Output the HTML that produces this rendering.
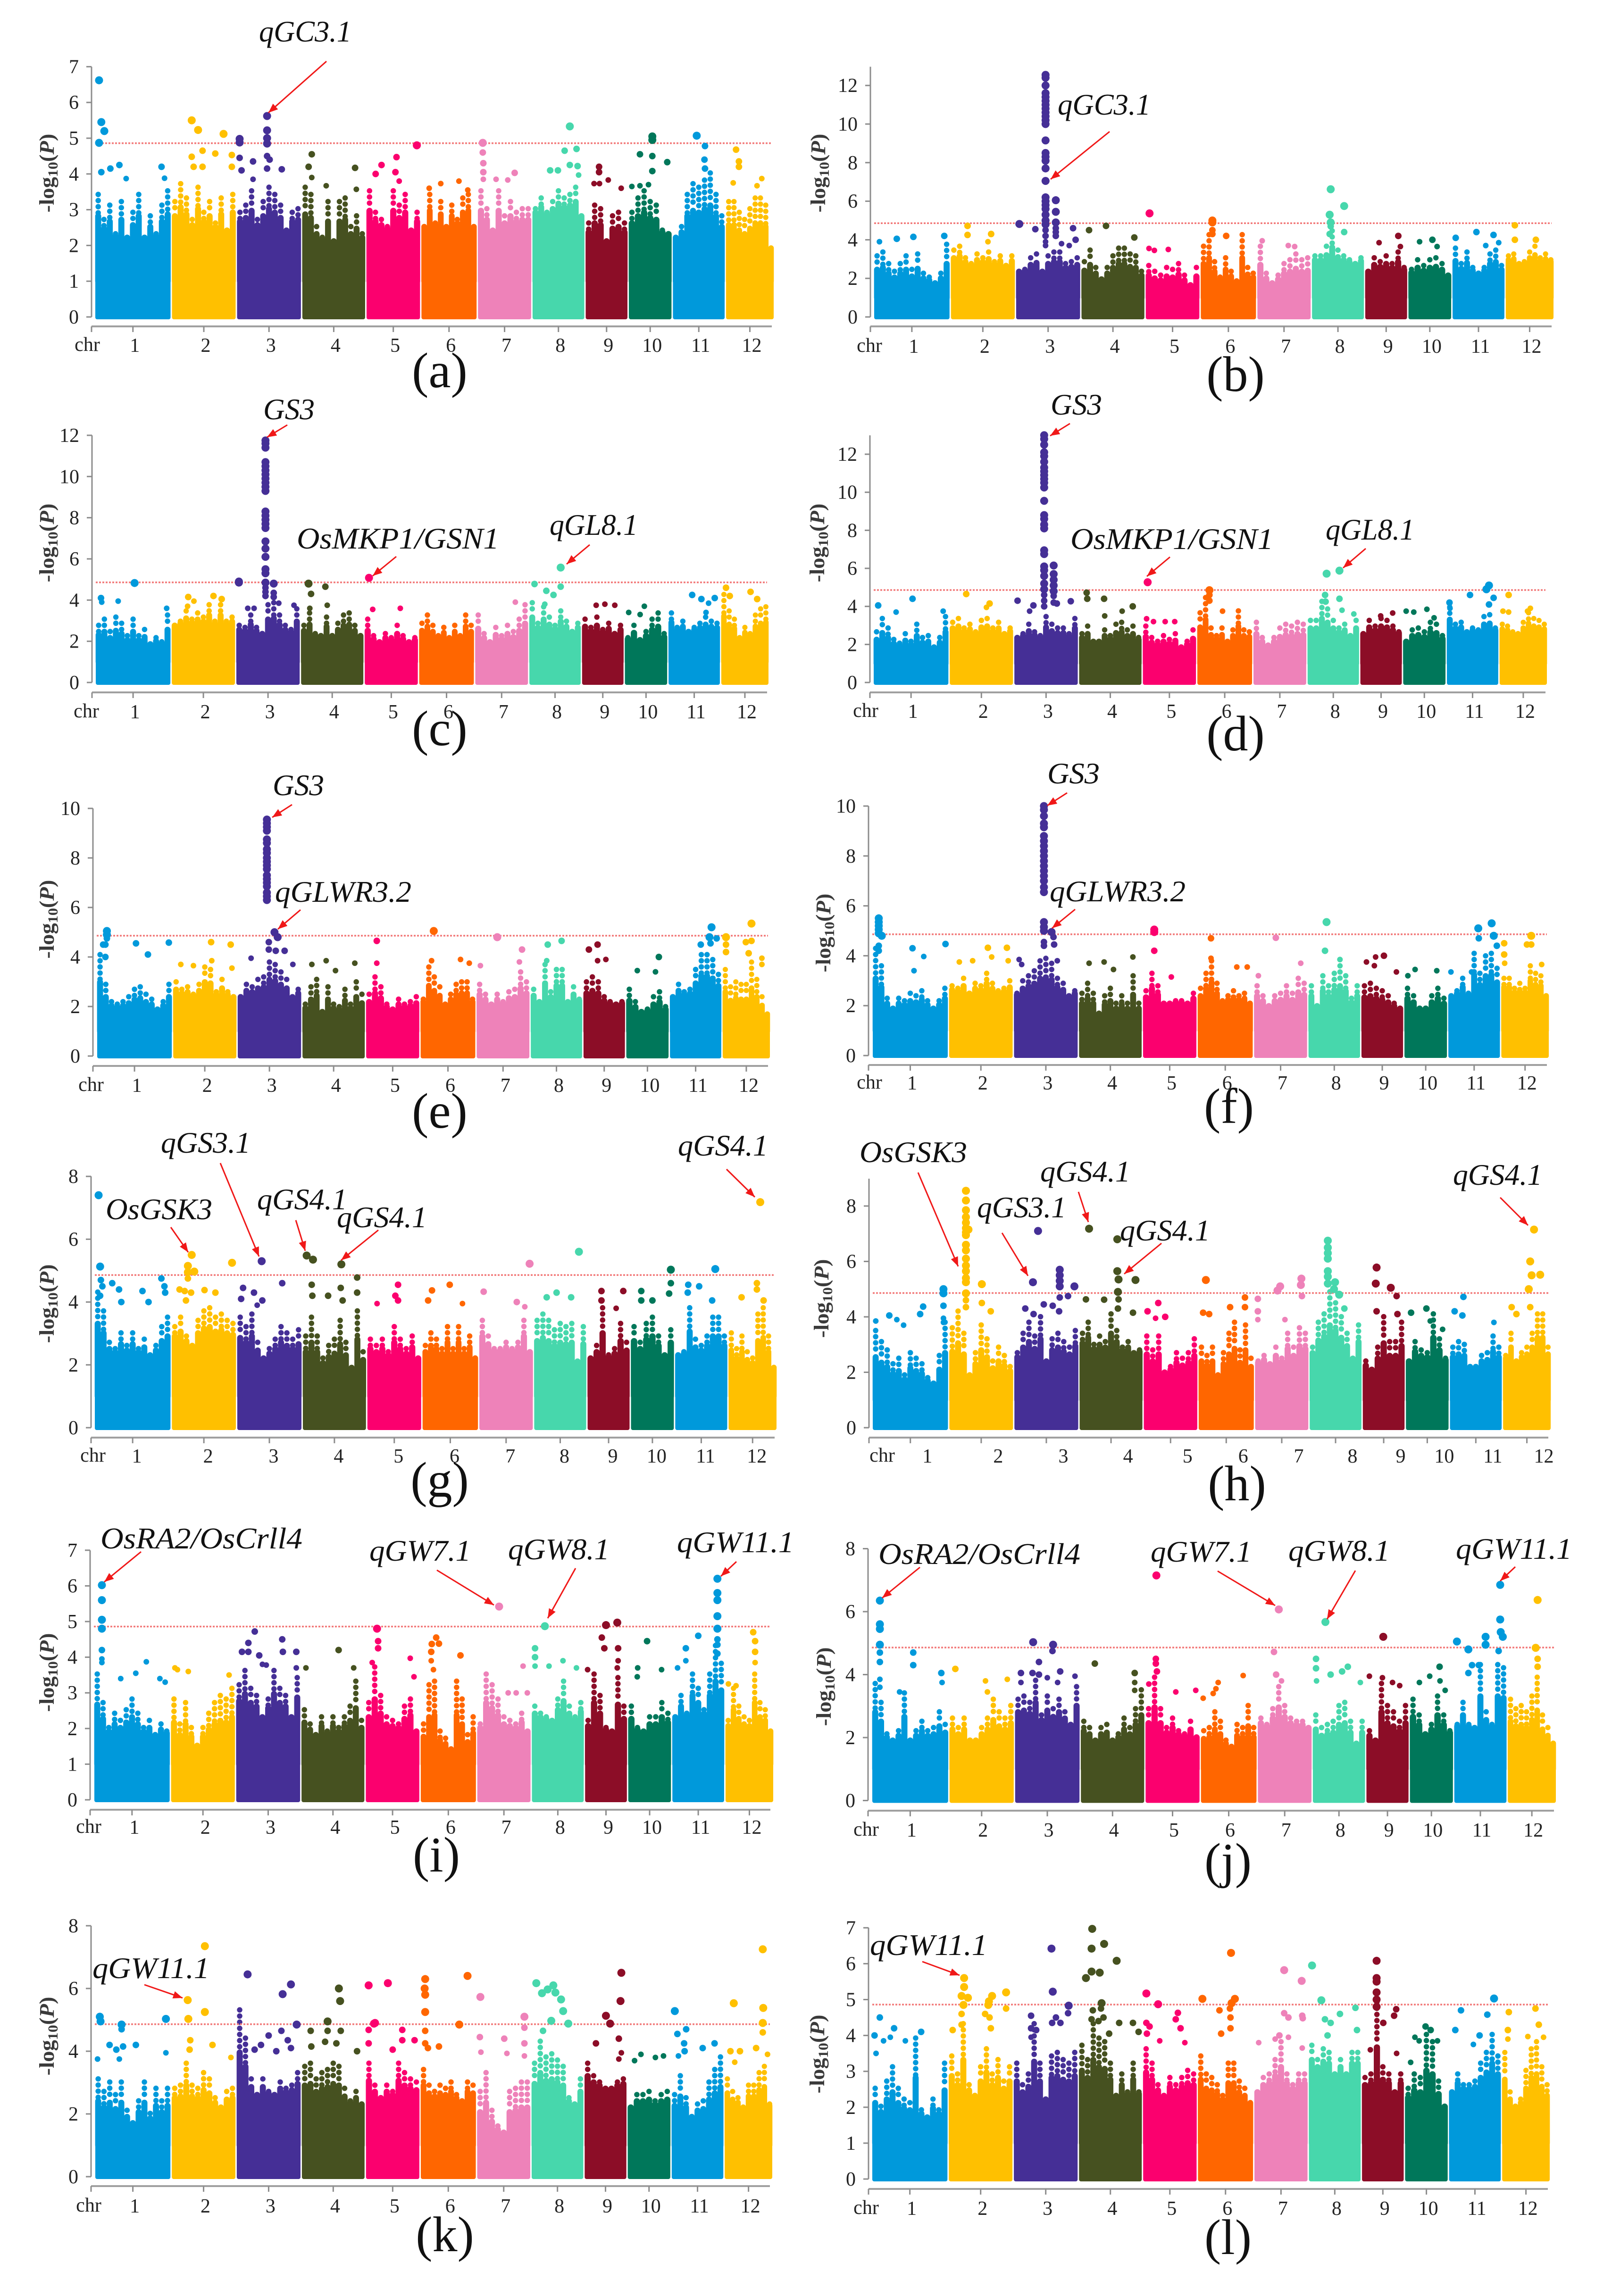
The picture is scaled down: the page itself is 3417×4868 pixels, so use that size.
<!DOCTYPE html>
<html lang="en">
<head>
<meta charset="utf-8">
<title>Manhattan plots of grain traits</title>
<style>
html,body{margin:0;padding:0;background:#fff;}
svg{display:block;}
.ann{font-family:"Liberation Serif",serif;font-style:italic;font-size:64px;fill:#111;}
.ytitle{font-family:"Liberation Serif",serif;font-weight:bold;font-size:44px;fill:#3a3a3a;text-anchor:middle;}
.letter{font-family:"Liberation Serif",serif;font-size:106px;fill:#111;text-anchor:middle;}
.tick{font-family:"Liberation Serif",serif;font-size:42px;fill:#222;}
.arrow{stroke:#f01818;stroke-width:3;fill:none;}
</style>
</head>
<body>
<svg xmlns="http://www.w3.org/2000/svg" width="3417" height="4868" viewBox="0 0 3417 4868">
<defs>
<marker id="ah" markerUnits="userSpaceOnUse" markerWidth="22" markerHeight="16" refX="20" refY="8" orient="auto"><path d="M0 0L20 8L0 16Z" fill="#f01818"/></marker>
</defs>
<rect width="3417" height="4868" fill="#fff"/>
<g id="charts"></g>

<g>
<text class="ytitle" transform="translate(114,367) rotate(-90)" textLength="167" lengthAdjust="spacingAndGlyphs">-log<tspan dy="8" font-size="30">10</tspan><tspan dy="-8">(</tspan><tspan font-style="italic">P</tspan>)</text>
<text class="ytitle" transform="translate(1749,367) rotate(-90)" textLength="167" lengthAdjust="spacingAndGlyphs">-log<tspan dy="8" font-size="30">10</tspan><tspan dy="-8">(</tspan><tspan font-style="italic">P</tspan>)</text>
<text class="ytitle" transform="translate(114,1151) rotate(-90)" textLength="167" lengthAdjust="spacingAndGlyphs">-log<tspan dy="8" font-size="30">10</tspan><tspan dy="-8">(</tspan><tspan font-style="italic">P</tspan>)</text>
<text class="ytitle" transform="translate(1747,1151) rotate(-90)" textLength="167" lengthAdjust="spacingAndGlyphs">-log<tspan dy="8" font-size="30">10</tspan><tspan dy="-8">(</tspan><tspan font-style="italic">P</tspan>)</text>
<text class="ytitle" transform="translate(114,1949) rotate(-90)" textLength="167" lengthAdjust="spacingAndGlyphs">-log<tspan dy="8" font-size="30">10</tspan><tspan dy="-8">(</tspan><tspan font-style="italic">P</tspan>)</text>
<text class="ytitle" transform="translate(1760,1978) rotate(-90)" textLength="167" lengthAdjust="spacingAndGlyphs">-log<tspan dy="8" font-size="30">10</tspan><tspan dy="-8">(</tspan><tspan font-style="italic">P</tspan>)</text>
<text class="ytitle" transform="translate(114,2764) rotate(-90)" textLength="167" lengthAdjust="spacingAndGlyphs">-log<tspan dy="8" font-size="30">10</tspan><tspan dy="-8">(</tspan><tspan font-style="italic">P</tspan>)</text>
<text class="ytitle" transform="translate(1756,2753) rotate(-90)" textLength="167" lengthAdjust="spacingAndGlyphs">-log<tspan dy="8" font-size="30">10</tspan><tspan dy="-8">(</tspan><tspan font-style="italic">P</tspan>)</text>
<text class="ytitle" transform="translate(114,3546) rotate(-90)" textLength="167" lengthAdjust="spacingAndGlyphs">-log<tspan dy="8" font-size="30">10</tspan><tspan dy="-8">(</tspan><tspan font-style="italic">P</tspan>)</text>
<text class="ytitle" transform="translate(1761,3576) rotate(-90)" textLength="167" lengthAdjust="spacingAndGlyphs">-log<tspan dy="8" font-size="30">10</tspan><tspan dy="-8">(</tspan><tspan font-style="italic">P</tspan>)</text>
<text class="ytitle" transform="translate(114,4317) rotate(-90)" textLength="167" lengthAdjust="spacingAndGlyphs">-log<tspan dy="8" font-size="30">10</tspan><tspan dy="-8">(</tspan><tspan font-style="italic">P</tspan>)</text>
<text class="ytitle" transform="translate(1747,4355) rotate(-90)" textLength="167" lengthAdjust="spacingAndGlyphs">-log<tspan dy="8" font-size="30">10</tspan><tspan dy="-8">(</tspan><tspan font-style="italic">P</tspan>)</text>
</g>

<g>
<text class="letter" x="932" y="821">(a)</text>
<text class="letter" x="2619" y="829">(b)</text>
<text class="letter" x="932" y="1580">(c)</text>
<text class="letter" x="2619" y="1591">(d)</text>
<text class="letter" x="932" y="2391">(e)</text>
<text class="letter" x="2605" y="2381">(f)</text>
<text class="letter" x="932" y="3173">(g)</text>
<text class="letter" x="2622" y="3181">(h)</text>
<text class="letter" x="925" y="3968">(i)</text>
<text class="letter" x="2603" y="3981">(j)</text>
<text class="letter" x="943" y="4773">(k)</text>
<text class="letter" x="2603" y="4779">(l)</text>
</g>

<g>
<text class="ann" x="549" y="88" textLength="196" lengthAdjust="spacingAndGlyphs">qGC3.1</text>
<line class="arrow" x1="692" y1="130" x2="569" y2="239" marker-end="url(#ah)"/>
<text class="ann" x="2242" y="243" textLength="197" lengthAdjust="spacingAndGlyphs">qGC3.1</text>
<line class="arrow" x1="2352" y1="279" x2="2227" y2="380" marker-end="url(#ah)"/>

<text class="ann" x="558" y="889" textLength="109" lengthAdjust="spacingAndGlyphs">GS3</text>
<line class="arrow" x1="609" y1="901" x2="566" y2="927" marker-end="url(#ah)"/>
<text class="ann" x="629" y="1163" textLength="429" lengthAdjust="spacingAndGlyphs">OsMKP1/GSN1</text>
<line class="arrow" x1="840" y1="1180" x2="790" y2="1221" marker-end="url(#ah)"/>
<text class="ann" x="1165" y="1134" textLength="187" lengthAdjust="spacingAndGlyphs">qGL8.1</text>
<line class="arrow" x1="1250" y1="1155" x2="1201" y2="1196" marker-end="url(#ah)"/>

<text class="ann" x="2227" y="879" textLength="109" lengthAdjust="spacingAndGlyphs">GS3</text>
<line class="arrow" x1="2268" y1="898" x2="2226" y2="924" marker-end="url(#ah)"/>
<text class="ann" x="2269" y="1164" textLength="430" lengthAdjust="spacingAndGlyphs">OsMKP1/GSN1</text>
<line class="arrow" x1="2480" y1="1181" x2="2431" y2="1222" marker-end="url(#ah)"/>
<text class="ann" x="2810" y="1144" textLength="188" lengthAdjust="spacingAndGlyphs">qGL8.1</text>
<line class="arrow" x1="2895" y1="1163" x2="2847" y2="1204" marker-end="url(#ah)"/>

<text class="ann" x="578" y="1686" textLength="109" lengthAdjust="spacingAndGlyphs">GS3</text>
<line class="arrow" x1="619" y1="1706" x2="577" y2="1733" marker-end="url(#ah)"/>
<text class="ann" x="583" y="1912" textLength="289" lengthAdjust="spacingAndGlyphs">qGLWR3.2</text>
<line class="arrow" x1="637" y1="1929" x2="589" y2="1970" marker-end="url(#ah)"/>

<text class="ann" x="2220" y="1661" textLength="111" lengthAdjust="spacingAndGlyphs">GS3</text>
<line class="arrow" x1="2262" y1="1681" x2="2220" y2="1708" marker-end="url(#ah)"/>
<text class="ann" x="2225" y="1911" textLength="288" lengthAdjust="spacingAndGlyphs">qGLWR3.2</text>
<line class="arrow" x1="2279" y1="1928" x2="2230" y2="1968" marker-end="url(#ah)"/>

<text class="ann" x="341" y="2444" textLength="190" lengthAdjust="spacingAndGlyphs">qGS3.1</text>
<line class="arrow" x1="467" y1="2466" x2="549" y2="2664" marker-end="url(#ah)"/>
<text class="ann" x="224" y="2585" textLength="226" lengthAdjust="spacingAndGlyphs">OsGSK3</text>
<line class="arrow" x1="362" y1="2602" x2="399" y2="2655" marker-end="url(#ah)"/>
<text class="ann" x="545" y="2564" textLength="191" lengthAdjust="spacingAndGlyphs">qGS4.1</text>
<line class="arrow" x1="627" y1="2587" x2="647" y2="2652" marker-end="url(#ah)"/>
<text class="ann" x="714" y="2602" textLength="191" lengthAdjust="spacingAndGlyphs">qGS4.1</text>
<line class="arrow" x1="802" y1="2608" x2="723" y2="2672" marker-end="url(#ah)"/>
<text class="ann" x="1437" y="2450" textLength="191" lengthAdjust="spacingAndGlyphs">qGS4.1</text>
<line class="arrow" x1="1540" y1="2479" x2="1600" y2="2538" marker-end="url(#ah)"/>

<text class="ann" x="1822" y="2464" textLength="228" lengthAdjust="spacingAndGlyphs">OsGSK3</text>
<line class="arrow" x1="1946" y1="2486" x2="2031" y2="2685" marker-end="url(#ah)"/>
<text class="ann" x="2071" y="2581" textLength="189" lengthAdjust="spacingAndGlyphs">qGS3.1</text>
<line class="arrow" x1="2124" y1="2614" x2="2179" y2="2705" marker-end="url(#ah)"/>
<text class="ann" x="2205" y="2505" textLength="191" lengthAdjust="spacingAndGlyphs">qGS4.1</text>
<line class="arrow" x1="2286" y1="2527" x2="2307" y2="2591" marker-end="url(#ah)"/>
<text class="ann" x="2374" y="2630" textLength="191" lengthAdjust="spacingAndGlyphs">qGS4.1</text>
<line class="arrow" x1="2462" y1="2636" x2="2383" y2="2701" marker-end="url(#ah)"/>
<text class="ann" x="3080" y="2512" textLength="189" lengthAdjust="spacingAndGlyphs">qGS4.1</text>
<line class="arrow" x1="3180" y1="2539" x2="3239" y2="2598" marker-end="url(#ah)"/>

<text class="ann" x="213" y="3283" textLength="428" lengthAdjust="spacingAndGlyphs">OsRA2/OsCrll4</text>
<line class="arrow" x1="299" y1="3290" x2="221" y2="3354" marker-end="url(#ah)"/>
<text class="ann" x="783" y="3309" textLength="215" lengthAdjust="spacingAndGlyphs">qGW7.1</text>
<line class="arrow" x1="926" y1="3329" x2="1047" y2="3403" marker-end="url(#ah)"/>
<text class="ann" x="1077" y="3306" textLength="215" lengthAdjust="spacingAndGlyphs">qGW8.1</text>
<line class="arrow" x1="1220" y1="3325" x2="1161" y2="3431" marker-end="url(#ah)"/>
<text class="ann" x="1435" y="3291" textLength="248" lengthAdjust="spacingAndGlyphs">qGW11.1</text>
<line class="arrow" x1="1561" y1="3311" x2="1528" y2="3342" marker-end="url(#ah)"/>

<text class="ann" x="1862" y="3316" textLength="428" lengthAdjust="spacingAndGlyphs">OsRA2/OsCrll4</text>
<line class="arrow" x1="1950" y1="3323" x2="1870" y2="3388" marker-end="url(#ah)"/>
<text class="ann" x="2439" y="3311" textLength="214" lengthAdjust="spacingAndGlyphs">qGW7.1</text>
<line class="arrow" x1="2581" y1="3331" x2="2703" y2="3404" marker-end="url(#ah)"/>
<text class="ann" x="2731" y="3309" textLength="215" lengthAdjust="spacingAndGlyphs">qGW8.1</text>
<line class="arrow" x1="2873" y1="3330" x2="2813" y2="3433" marker-end="url(#ah)"/>
<text class="ann" x="3086" y="3305" textLength="246" lengthAdjust="spacingAndGlyphs">qGW11.1</text>
<line class="arrow" x1="3212" y1="3322" x2="3180" y2="3352" marker-end="url(#ah)"/>

<text class="ann" x="196" y="4194" textLength="248" lengthAdjust="spacingAndGlyphs">qGW11.1</text>
<line class="arrow" x1="306" y1="4208" x2="387" y2="4236" marker-end="url(#ah)"/>
<text class="ann" x="1844" y="4145" textLength="249" lengthAdjust="spacingAndGlyphs">qGW11.1</text>
<line class="arrow" x1="1955" y1="4159" x2="2034" y2="4188" marker-end="url(#ah)"/>
</g>
</svg>

<script>
const chromosomes=['1','2','3','4','5','6','7','8','9','10','11','12'];
const chromosomeLengths=[43.0,36.5,36.6,36.0,30.8,31.7,30.6,29.8,24.2,24.7,29.8,27.5];
const chromosomeColors=['#0099db','#ffc000','#452f96','#465120','#fb006e','#ff6600','#ee82b9','#47d7ac','#8c0d27','#00775a','#0099db','#ffc000'];
const significanceThreshold=4.86;

const yTicksA=[0,1,2,3,4,5,6,7];
const yTicksB=[0,2,4,6,8,10,12];
const yTicksC=[0,2,4,6,8,10,12];
const yTicksD=[0,2,4,6,8,10,12];
const yTicksE=[0,2,4,6,8,10];
const yTicksF=[0,2,4,6,8,10];
const yTicksG=[0,2,4,6,8];
const yTicksH=[0,2,4,6,8];
const yTicksI=[0,1,2,3,4,5,6,7];
const yTicksJ=[0,2,4,6,8];
const yTicksK=[0,2,4,6,8];
const yTicksL=[0,1,2,3,4,5,6,7];

const skylineA=[[3.5,2.8,3.2,2.4,3.3,2.3,3.0,3.5,2.3,2.9,2.4,3.2,3.6],[3.3,3.8,3.4,2.8,3.7,3.0,3.3,2.7,3.4,2.5,3.5],[3.0,3.2,3.6,2.8,3.3,3.7,3.5,3.2,2.5,3.0,3.1],[3.7,3.5,2.6,2.3,3.3,2.2,3.3,3.4,2.6,2.9,2.4],[3.6,3.0,2.8,2.6,3.6,3.2,3.5,2.5,3.0],[2.6,3.5,2.7,3.3,2.6,3.2,2.8,3.4,3.5,2.6],[3.6,3.1,2.5,3.6,2.9,3.3,3.0,3.1,3.1],[3.1,3.4,3.0,3.3,3.6,3.4,3.5,3.7,2.9],[2.7,3.2,3.1,2.2,2.9,3.0,2.7],[3.0,3.4,3.6,3.3,3.2,2.5,2.4],[2.3,2.6,3.5,3.8,3.7,3.9,4.1,3.5,2.9],[3.3,3.3,3.0,2.8,3.1,3.4,3.4,3.2,2.0]];
const peaksA=[[1,.05,6.62,4.87],[1,.08,5.45,4.05],[1,.12,5.2],[1,.2,4.15],[1,.32,4.25],[1,.41,3.87],[1,.88,4.2],[1,.92,3.88],[2,.31,5.5,4.48],[2,.41,5.23],[2,.81,5.12],[2,.48,4.65,4.2],[2,.68,4.57],[2,.94,4.53,4.2],[2,.34,4.2],[3,.04,4.98,4.88,4.45],[3,.47,5.62,5.22,5.0,4.85,4.5,4.15],[3,.25,4.35,3.85],[3,.51,4.4],[3,.7,4.13],[3,.07,4.1],[4,.15,4.55,3.9],[4,.1,4.2],[4,.84,4.17],[4,.38,3.67],[4,.86,3.57],[5,.94,4.8],[5,.56,4.47],[5,.28,4.25],[5,.54,4.05],[5,.17,4.0],[5,.61,3.8],[6,.35,3.73],[6,.68,3.8],[6,.14,3.6],[6,.84,3.55],[7,.09,4.87,4.6],[7,.1,4.3,4.05,3.85],[7,.69,4.03],[7,.34,3.85],[7,.56,3.83],[8,.72,5.33,4.25],[8,.62,4.65],[8,.85,4.7],[8,.87,4.22],[8,.34,4.1],[8,.49,4.1],[8,.89,3.97],[9,.32,4.2,4.05],[9,.54,3.83],[9,.2,3.73],[9,.33,3.73],[9,.85,3.6],[10,.55,5.05,4.95,4.5,4.08],[10,.26,4.55,3.67],[10,.9,4.33],[10,.07,3.65],[10,.46,3.7],[11,.46,5.07],[11,.62,4.78,4.15],[11,.61,4.4],[12,.21,4.68],[12,.27,4.35,4.2],[12,.15,3.75],[12,.75,3.87],[12,.65,3.67]];

const skylineB=[[3.3,3.5,2.9,2.5,2.9,3.3,2.6,3.4,2.4,2.2,1.9,2.4,3.9],[3.6,3.8,3.2,2.9,3.4,3.2,3.5,3.0,3.3,2.8,3.3],[2.5,2.6,3.2,3.4,2.5,3.3,3.5,3.5,2.9,3.0,3.2],[3.0,3.6,2.7,2.1,2.7,3.3,3.7,3.7,3.4,3.3,2.5],[2.8,2.5,2.3,2.7,2.6,2.9,2.3,1.8,2.7],[3.8,4.4,3.0,2.2,3.2,2.5,2.0,4.4,2.7,2.4],[3.8,2.4,1.9,2.3,2.9,3.1,3.4,3.1,3.2],[3.3,3.3,3.8,4.6,3.6,3.3,3.1,2.9,3.2],[2.5,3.2,3.0,3.3,2.9,3.5,2.7],[2.6,3.1,2.8,3.1,3.2,2.9,2.3],[3.7,2.9,3.5,2.7,2.4,2.7,3.4,3.6,2.8],[3.3,3.4,2.9,3.0,3.5,3.8,3.2,3.4,3.1]];
const peaksB=[[1,.07,3.9],[1,.3,4.05],[1,.52,4.15],[1,.93,4.2],[2,.26,4.72,4.25],[2,.63,4.3],[2,.58,3.9],[3,.46,12.55,12.4,12.0,11.6,11.4,11.2,11.0,10.8,10.6,10.4,10.2,10.0,9.15,8.5,8.3,8.1,7.7,7.05,6.2,6.0,5.8,5.6,5.3,5.0,4.8,4.5,4.2,3.9,3.7],[3,.62,6.05,5.45,4.9,4.6,4.4,4.2],[3,.05,4.82],[3,.3,4.55],[3,.89,4.6],[3,.93,4.0],[3,.71,3.8],[3,.83,3.7],[4,.12,4.5],[4,.39,4.72],[4,.84,4.12],[5,.07,5.37],[5,.06,3.55],[5,.16,3.45],[5,.42,3.5],[6,.21,5.0,4.9,4.5,4.3],[6,.46,4.2],[7,.09,3.95],[7,.58,3.7],[7,.7,3.65],[8,.36,6.62,4.9,4.7],[8,.62,5.75,4.4],[8,.34,5.3,4.3],[9,.79,4.2],[9,.33,3.85],[9,.84,3.65],[10,.26,3.9],[10,.56,4.0],[10,.67,3.65],[11,.46,4.4],[11,.06,4.1],[11,.79,4.25],[11,.89,3.85],[11,.64,3.7],[12,.19,4.75,4.0],[12,.63,4.0]];

const skylineC=[[2.9,3.2,2.6,3.3,3.0,2.4,3.2,2.4,2.7,2.0,2.3,2.1,3.4],[2.9,3.1,3.6,3.2,3.5,3.3,3.9,3.1,3.9,3.1,3.3],[2.9,2.8,3.4,2.8,2.5,3.9,4.0,3.4,2.9,2.7,3.7],[2.9,3.5,2.5,2.4,3.3,2.4,3.0,3.4,3.5,2.9,2.4],[3.2,2.4,2.1,2.5,2.3,2.9,2.4,2.1,2.3],[3.0,3.4,2.9,2.4,2.8,2.3,2.9,2.4,3.4,2.9],[3.4,2.5,2.1,2.8,2.4,2.9,2.6,3.2,3.9],[4.0,3.0,3.8,3.3,2.9,3.6,3.1,2.6,3.0],[3.2,2.8,3.3,2.7,3.0,2.5,2.9],[2.3,2.9,2.2,2.6,3.2,3.5,2.5],[3.5,2.8,3.1,2.6,2.8,3.0,3.3,3.1,3.0],[4.4,3.6,3.2,2.3,2.8,2.5,3.4,3.7,3.8]];
const peaksC=[[1,.52,4.83],[1,.07,4.1],[1,.08,3.9],[1,.3,3.95],[1,.95,3.6],[2,.26,4.15],[2,.35,3.95],[2,.66,4.2],[2,.79,4.05],[2,.25,3.7],[3,.46,11.75,11.6,11.4,10.7,10.5,10.3,10.1,9.9,9.7,9.5,9.3,8.3,8.1,7.9,7.7,7.5,6.85,6.5,6.1,5.5,5.3,4.85,4.6,4.4,4.2],[3,.59,4.8,4.35,4.15],[3,.04,4.9,4.85],[3,.67,3.85],[3,.91,3.75],[3,.18,3.6],[3,.28,3.6],[4,.12,4.8],[4,.16,4.3],[4,.39,4.65],[4,.42,3.75],[4,.14,3.6],[5,.08,5.08],[5,.15,3.55],[5,.67,3.6],[7,.76,3.9],[8,.1,4.78],[8,.61,5.58,4.65],[8,.33,4.45],[8,.47,4.25],[8,.3,3.8],[9,.34,3.75],[9,.55,3.8],[9,.79,3.75],[10,.46,3.7],[10,.09,3.4],[10,.36,3.3],[11,.46,4.25],[11,.64,4.05],[11,.9,4.1],[11,.78,3.85],[11,.73,3.4],[12,.1,4.6],[12,.18,4.2],[12,.62,4.4],[12,.76,4.05]];

const skylineD=[[2.8,3.5,3.0,2.4,2.2,2.7,2.3,3.2,2.5,2.6,2.0,2.5,3.6],[3.3,3.5,3.0,3.2,2.8,3.4,3.5,3.0,3.3,2.7,3.0],[2.5,2.7,3.2,2.8,2.6,3.6,3.2,3.0,3.0,2.7,3.5],[2.7,3.1,2.3,2.3,2.9,2.6,3.2,3.3,2.9,3.1,2.5],[3.1,2.5,2.3,2.6,2.4,2.7,2.0,2.3,2.9],[3.8,4.6,3.0,2.6,3.0,2.3,2.9,3.9,2.9,2.8],[3.3,2.5,2.1,2.5,3.0,3.2,3.1,3.3,3.2],[3.4,3.4,4.4,4.0,3.4,3.0,3.2,2.6,3.4],[2.7,3.4,3.1,3.5,3.4,3.1,2.8],[2.3,2.9,3.0,2.8,3.3,3.2,2.6],[4.1,3.2,3.3,2.8,3.0,2.9,3.6,3.7,3.0],[3.2,3.1,2.8,2.7,3.3,3.8,3.5,3.4,3.2]];
const peaksD=[[1,.06,4.05],[1,.3,3.7],[1,.52,4.4],[1,.93,3.75],[2,.26,4.65],[2,.63,4.15],[2,.58,3.95],[3,.47,13.0,12.8,12.5,12.1,11.9,11.6,11.3,11.1,10.9,10.7,10.5,10.25,9.55,8.8,8.6,8.3,8.1,6.95,6.75,6.1,5.9,5.6,5.2,4.9,4.6,4.3,4.0],[3,.62,6.15,5.7,5.4,5.1,4.8,4.55,4.2],[3,.05,4.3],[3,.3,4.05],[3,.89,4.27],[3,.24,3.75],[3,.67,4.15],[4,.12,4.72],[4,.13,4.4],[4,.4,4.4],[4,.86,4.0],[4,.41,3.5],[4,.69,3.75],[5,.09,5.27],[5,.07,3.35],[5,.2,3.2],[5,.42,3.2],[5,.6,3.2],[6,.22,4.85,4.6,4.3],[6,.46,3.75],[8,.37,5.72],[8,.62,5.88,4.4],[8,.34,4.6],[8,.35,4.25],[8,.67,3.8],[8,.9,3.6],[9,.49,3.5],[9,.78,3.65],[10,.07,3.75],[10,.25,3.7],[10,.56,3.85],[10,.73,3.4],[11,.82,5.1,4.1],[11,.77,4.9],[11,.45,4.6],[11,.91,4.45],[11,.05,4.2],[11,.06,3.9],[12,.19,4.6,3.7],[12,.07,3.75],[12,.65,3.9],[12,.59,3.75]];

const skylineE=[[4.2,3.0,2.3,2.2,2.3,2.5,2.8,2.9,2.6,2.4,2.0,2.3,3.0],[3.1,2.8,2.9,2.6,3.0,3.7,3.6,2.7,3.2,2.7,2.5],[2.5,3.0,2.9,3.2,3.3,3.9,3.8,3.5,3.2,2.5,2.8],[2.2,2.9,3.2,1.9,2.9,2.2,2.1,2.8,2.2,3.1,2.6],[2.6,3.3,2.9,2.2,2.0,2.4,2.2,2.3,2.5],[2.4,3.7,3.3,2.9,2.2,2.6,3.0,3.1,3.1,2.4],[3.0,2.6,2.2,2.6,2.3,2.7,2.8,3.5,3.1],[2.8,2.3,3.8,2.7,3.6,3.6,2.3,2.9,2.4],[3.1,3.3,3.1,2.5,2.3,2.2,2.3],[2.8,2.3,1.9,2.0,2.5,2.7,2.1],[2.5,3.0,2.7,2.8,3.6,4.2,4.2,4.0,3.4],[3.6,2.9,3.1,3.0,3.0,3.9,3.2,2.5,1.8]];
const peaksE=[[1,.13,5.05,4.9,4.75],[1,.08,4.5],[1,.11,4.5,4.0],[1,.52,4.55],[1,.68,4.1],[1,.96,4.58],[2,.6,4.6],[2,.91,4.5],[2,.93,3.55],[2,.12,3.7],[2,.32,3.65],[2,.61,3.85],[3,.46,9.55,9.4,9.25,9.1,8.75,8.6,8.35,8.2,8.0,7.85,7.7,7.55,7.3,7.15,7.0,6.85,6.6,6.45,6.3],[3,.58,5.0],[3,.63,4.8],[3,.49,4.6,4.3],[3,.74,4.25],[3,.6,4.25],[3,.21,3.95],[3,.87,3.7],[4,.38,3.85],[4,.15,3.7],[4,.84,3.75],[4,.53,3.45],[5,.2,4.65,3.75],[6,.24,5.05],[6,.2,3.85],[6,.73,3.9],[6,.89,3.75],[7,.39,4.8],[7,.86,4.3],[7,.07,3.65],[7,.81,3.8],[8,.6,4.65],[8,.33,4.5],[8,.31,3.85],[9,.34,4.5,3.85],[9,.13,4.3],[9,.54,3.9],[10,.77,4.0],[10,.26,3.45],[10,.69,3.4],[11,.81,5.2],[11,.77,4.8],[11,.91,4.75],[11,.6,4.5],[11,.79,4.55],[12,.61,5.35,4.65],[12,.07,4.8,4.5,4.2],[12,.49,4.6],[12,.55,4.15],[12,.83,3.95,3.7]];

const skylineF=[[4.4,3.7,2.4,2.0,2.4,2.3,2.6,2.5,2.7,2.3,2.0,2.3,2.8],[2.9,2.8,3.2,2.6,3.0,2.9,3.4,3.0,2.7,2.8,3.1],[2.6,3.1,3.3,3.5,3.9,4.0,3.8,3.2,3.0,2.5,2.7],[2.6,3.0,2.6,1.8,2.5,2.8,2.2,2.5,2.2,3.3,2.2],[2.7,3.4,2.9,2.2,2.2,2.3,2.3,2.2,2.6],[2.8,3.4,3.9,3.0,2.3,2.5,2.7,2.5,2.6,2.2],[2.9,2.5,2.1,2.5,2.6,2.9,2.6,3.2,3.0],[2.9,2.1,3.3,2.9,3.4,3.7,3.3,2.4,2.9],[2.9,3.0,2.8,2.7,2.5,2.2,2.0],[2.8,2.5,2.0,2.0,2.5,2.8,2.4],[2.5,2.7,3.2,2.6,4.2,3.4,4.1,4.2,3.6],[3.2,3.2,2.8,3.0,2.8,3.7,3.4,3.3,2.5]];
const peaksF=[[1,.08,5.5,5.35,5.2,5.05,4.9,4.4,4.2],[1,.12,4.8],[1,.53,4.3],[1,.55,3.4],[1,.68,3.97],[1,.97,4.47],[2,.61,4.32],[2,.91,4.32],[2,.67,3.95],[2,.37,3.8],[2,.16,3.75],[2,.93,3.8],[3,.47,10.0,9.85,9.6,9.3,9.15,8.8,8.6,8.4,8.2,8.0,7.8,7.6,7.4,7.2,7.0,6.75,6.55,5.35,5.15,5.0,4.55,4.4],[3,.59,4.95],[3,.62,4.75],[3,.63,4.45],[3,.08,3.85],[3,.12,3.65],[3,.68,3.8],[4,.86,3.95],[4,.16,3.7],[4,.4,3.75],[4,.55,3.45],[5,.21,5.05,4.95,4.2],[5,.53,3.15],[6,.24,4.7,3.9],[6,.71,3.55],[6,.9,3.55],[7,.41,4.72],[7,.88,3.7],[7,.08,3.2],[8,.35,5.35],[8,.32,4.2],[8,.61,3.85],[9,.54,4.0],[9,.34,3.95],[9,.12,3.75],[9,.84,3.35],[9,.31,3.6],[10,.25,3.45],[10,.76,3.4],[10,.08,3.2],[11,.84,5.3],[11,.58,5.1],[11,.88,4.8],[11,.59,4.7],[11,.94,4.4],[11,.05,3.35],[11,.45,3.35],[12,.63,4.8,4.45],[12,.06,4.5,4.05],[12,.54,4.45],[12,.07,3.7],[12,.85,3.65]];

const skylineG=[[4.4,3.8,2.8,2.6,3.1,2.7,3.1,2.6,2.9,2.4,2.7,3.3,3.6],[3.3,3.6,3.0,2.7,3.5,3.8,3.9,3.6,3.7,3.5,3.4],[3.6,3.3,3.7,2.8,2.3,2.6,2.9,3.3,3.1,2.9,3.2],[3.0,3.6,3.0,2.3,2.7,2.9,3.5,2.8,2.0,3.8,2.5],[2.9,2.7,2.9,2.5,3.3,2.9,2.6,3.0,2.3],[2.7,3.1,2.9,2.6,3.3,2.6,3.3,2.6,3.0,2.3],[3.5,3.0,2.6,2.6,2.8,2.6,2.8,3.5,2.5],[3.5,3.7,3.5,3.2,3.4,3.3,3.4,2.2,3.3],[2.3,2.7,3.9,2.4,2.6,3.4,2.8],[3.3,2.8,3.4,3.6,3.0,2.4,3.2],[2.4,2.5,3.9,2.9,2.7,3.0,3.6,3.6,3.0],[3.1,2.6,3.0,2.5,2.3,3.7,3.9,3.0,2.0]];
const peaksG=[[1,.05,7.4],[1,.07,5.13,4.2],[1,.08,4.7],[1,.1,4.5],[1,.23,4.6],[1,.32,4.4],[1,.63,4.35],[1,.88,4.75],[1,.92,4.5],[1,.93,4.3],[1,.71,4.0],[1,.35,4.0],[2,.31,5.5],[2,.94,5.25],[2,.25,5.15,4.95,4.75],[2,.35,4.97],[2,.12,4.4],[2,.2,4.35],[2,.3,4.3],[2,.51,4.38],[2,.68,4.3],[2,.22,4.05],[3,.38,5.3],[3,.7,4.6],[3,.09,4.45],[3,.26,4.3],[3,.39,4.05],[3,.06,4.1],[3,.31,3.9],[4,.06,5.48],[4,.16,5.35],[4,.61,5.2],[4,.86,4.78,4.3],[4,.14,4.55],[4,.6,4.45],[4,.4,4.2],[4,.15,4.2],[4,.63,4.05],[5,.57,4.55,4.05],[5,.52,4.2],[5,.18,3.95],[6,.49,4.55],[6,.17,4.37],[6,.1,4.05],[6,.72,3.95],[7,.94,5.22],[7,.08,4.33],[7,.7,4.0],[7,.85,3.85],[8,.86,5.6],[8,.43,4.3],[8,.24,4.15],[8,.71,4.15],[9,.33,4.35,4.05],[9,.85,4.35],[9,.68,3.8],[10,.93,5.03,4.6],[10,.24,4.35,4.05],[10,.89,4.27],[10,.5,4.05],[11,.77,5.05],[11,.25,4.55],[11,.46,4.5],[11,.24,4.3],[11,.71,4.05],[12,.66,7.18],[12,.59,4.6,4.4],[12,.27,4.15],[12,.73,4.05]];

const skylineH=[[3.6,3.2,2.9,2.4,2.6,2.0,2.8,2.6,2.4,1.9,1.7,2.7,3.9],[3.7,4.3,3.5,2.0,2.8,3.8,3.3,2.5,3.0,2.7,2.3],[2.8,3.5,3.9,3.4,4.1,2.5,3.3,3.5,3.2,3.0,3.6],[3.5,3.9,3.1,3.4,3.2,4.2,3.6,3.0,3.2,2.8,2.9],[3.4,2.9,3.4,2.1,2.3,2.8,2.6,2.8,3.3],[3.0,2.7,3.0,2.0,2.8,3.5,3.9,2.9,3.8,2.6],[2.5,2.7,2.4,3.0,2.6,3.5,3.0,3.7,3.5],[3.0,3.9,4.2,5.0,4.6,4.1,3.5,2.6,3.8],[2.5,2.2,3.0,4.1,3.2,3.2,3.9],[2.5,3.2,2.9,2.8,4.2,3.3,2.6],[3.0,3.2,3.1,2.3,2.3,2.7,2.8,3.4,3.0],[2.7,3.5,2.5,2.8,3.0,3.5,4.2,4.2,3.0]];
const peaksH=[[1,.94,5.0,4.85,4.4,3.95,3.8],[1,.67,4.37],[1,.63,4.1],[1,.04,3.85],[1,.22,4.05],[1,.32,3.9],[1,.41,3.7],[2,.26,8.55,8.2,7.85,7.6,7.4,7.2,7.05,6.95,6.6,6.4,6.1,5.85,5.65,5.4,5.25,4.85,4.6,4.35],[2,.3,7.15],[2,.51,5.18,4.5],[2,.65,4.2],[3,.37,7.1],[3,.29,5.25],[3,.71,5.7,5.5,5.3,5.1,4.7],[3,.94,5.1],[3,.84,4.75],[3,.46,4.45],[3,.6,4.4],[3,.17,4.3],[3,.7,4.2],[3,.3,4.1],[4,.15,7.18],[4,.6,6.8,5.65],[4,.62,5.35,4.63],[4,.89,5.33],[4,.61,4.9,4.3],[4,.1,4.63],[4,.39,4.62],[4,.85,4.15],[5,.27,4.5],[5,.07,4.2],[5,.4,4.0],[5,.22,3.95],[6,.13,5.33],[6,.84,4.7,4.35],[6,.08,4.15],[6,.19,4.1],[6,.57,4.35],[7,.87,5.38],[7,.86,5.15],[7,.47,5.1],[7,.42,4.95],[7,.05,4.65,4.2,3.9],[7,.88,4.75],[7,.56,3.9],[8,.35,6.75,6.5,6.3,6.1,5.65,5.45,5.2],[8,.49,5.25],[8,.57,4.8],[8,.47,5.0],[8,.67,4.3],[9,.33,5.78,4.2],[9,.31,5.2],[9,.67,5.05],[9,.81,4.75],[9,.83,4.1],[10,.12,4.15],[10,.48,4.3],[10,.57,3.85],[10,.86,3.55],[11,.26,4.72],[11,.09,4.2],[11,.24,4.05],[11,.85,3.8],[12,.65,7.15],[12,.57,6.0,4.35],[12,.6,5.5],[12,.78,5.52],[12,.54,5.0],[12,.18,4.35],[12,.28,4.1]];

const skylineI=[[3.6,2.8,2.1,2.5,2.3,2.6,2.9,2.5,2.1,2.3,1.9,2.2,2.0],[2.9,2.2,2.8,2.1,1.6,2.1,2.5,2.8,3.0,2.9,3.2],[3.3,3.7,3.2,3.0,2.4,2.9,3.7,3.2,3.0,2.4,3.5],[2.6,2.2,1.9,2.4,2.0,2.4,2.1,2.4,2.7,3.4,2.3],[2.8,3.8,3.0,2.4,2.3,2.2,2.7,2.9,2.0],[2.2,3.3,3.4,2.0,1.8,1.5,3.4,2.9,1.9,2.4],[2.2,3.6,3.3,2.9,2.4,2.3,2.2,2.5,2.0],[2.7,2.5,2.4,2.3,2.9,3.4,2.7,2.4,2.8],[2.3,3.6,3.0,2.1,2.0,3.5,2.7],[2.7,2.1,2.0,2.4,2.4,2.8,2.5],[2.4,3.0,2.5,3.6,3.2,2.6,3.6,4.4,3.9],[2.3,3.2,2.7,2.4,2.3,3.6,2.8,2.6,2.0]];
const peaksI=[[1,.1,6.02,5.6,5.05,4.8,4.2,3.95,3.85],[1,.69,3.87],[1,.35,3.4],[1,.55,3.55],[1,.87,3.4],[1,.94,3.3],[2,.06,3.7],[2,.1,3.65],[2,.27,3.6],[2,.91,3.5],[3,.29,4.72],[3,.72,4.5],[3,.19,4.4,4.15],[3,.09,4.15],[3,.36,4.05],[3,.73,4.15],[3,.94,4.15,3.7],[3,.41,3.8],[3,.47,3.78],[4,.59,4.2],[4,.07,3.7],[4,.83,3.7],[5,.21,4.8],[5,.23,4.45,4.25],[5,.83,3.97],[5,.12,3.85],[5,.9,3.45],[6,.28,4.55],[6,.2,4.37],[6,.33,4.38],[6,.19,4.15,3.9],[6,.72,4.05],[6,.23,3.65],[7,.41,5.42],[7,.86,3.75],[7,.58,3.0],[7,.73,3.0],[7,.94,3.0],[8,.25,4.87],[8,.06,4.25,4.0,3.75],[8,.6,3.9],[8,.33,3.75],[8,.86,3.7],[9,.5,4.9],[9,.77,4.97,3.7],[9,.4,4.55],[9,.46,4.25],[9,.79,4.25,3.9],[9,.06,3.65],[10,.44,4.45],[10,.22,3.7],[10,.78,3.65],[10,.21,3.45],[11,.87,6.2,5.8,5.6,5.15,4.8,4.5,4.35,4.1],[11,.5,4.6],[11,.26,4.25,3.9],[11,.1,3.7],[12,.58,4.7],[12,.62,4.45,4.15,3.85],[12,.06,3.25],[12,.22,3.2]];

const skylineJ=[[3.8,3.2,2.2,2.0,2.3,3.5,2.0,2.3,2.6,2.3,2.4,2.9,2.5],[2.7,2.4,2.7,2.0,2.0,2.4,2.7,3.3,2.9,2.7,3.1],[3.3,3.4,3.2,3.9,2.8,3.4,3.0,3.3,2.9,2.5,3.7],[2.6,2.4,2.0,2.4,2.5,2.0,2.2,2.7,2.4,3.0,3.6],[3.0,4.0,3.0,2.4,2.7,2.3,2.2,2.6,2.1],[2.3,2.4,2.9,2.6,2.0,1.8,2.5,2.4,3.1,2.4],[2.7,2.5,3.0,3.7,3.1,2.7,2.6,2.6,2.4],[2.8,2.4,2.5,2.6,3.1,3.2,2.6,1.9,2.6],[2.3,2.0,3.8,3.1,2.9,2.6,3.1],[3.3,2.8,2.2,2.5,3.4,2.8,2.3],[2.5,3.2,2.5,2.4,4.4,2.9,2.5,4.4,4.3],[3.3,3.0,3.1,2.9,3.4,4.0,2.8,2.4,1.9]];
const peaksJ=[[1,.1,6.35,5.6,5.45,4.95,4.7,4.4,3.85,3.6],[1,.54,4.7,4.3],[1,.91,4.05],[1,.92,3.75],[1,.36,3.45],[2,.09,4.18],[2,.56,3.8],[2,.9,3.85],[2,.59,3.45],[3,.28,5.03],[3,.59,4.95],[3,.58,4.75],[3,.37,4.4,4.0],[3,.09,4.05,3.75],[3,.27,4.05],[3,.7,4.1],[3,.93,3.95],[3,.5,3.9],[3,.66,3.75],[4,.22,4.35],[4,.85,4.05,3.75,3.5],[5,.2,7.15],[5,.19,4.5,4.35],[5,.21,4.1],[5,.06,3.7],[5,.93,3.5],[5,.56,3.45],[6,.76,3.97],[6,.31,3.75],[6,.27,3.55],[6,.22,3.4],[6,.04,3.25],[7,.39,6.07],[7,.3,4.72],[7,.34,4.0],[7,.44,3.8],[8,.24,5.67],[8,.06,4.5,4.2],[8,.34,4.0],[8,.67,4.25],[8,.56,4.1],[8,.91,3.75],[8,.07,3.8],[9,.4,5.2],[9,.07,3.95],[9,.38,3.9],[9,.62,3.75],[9,.79,3.65],[10,.69,4.25],[10,.46,3.95],[10,.22,3.75],[10,.7,3.8],[10,.82,3.5],[11,.88,6.85,5.75],[11,.89,5.35],[11,.93,5.2],[11,.6,5.2,4.95],[11,.05,5.05],[11,.27,4.8,4.05],[11,.85,4.75],[11,.34,4.3],[11,.47,4.3],[12,.62,6.37,4.5,4.25],[12,.58,4.85]];

const skylineK=[[3.2,2.8,3.1,2.7,3.1,2.2,1.8,2.5,3.1,2.1,2.9,2.5,2.9],[2.9,3.0,3.7,3.0,2.9,3.4,3.2,2.6,2.3,2.8,2.9],[5.4,4.5,3.2,2.7,3.2,2.8,2.7,3.1,2.9,3.0,3.4],[3.6,3.7,3.2,3.4,3.5,3.7,3.6,2.9,2.5,2.8,2.4],[3.7,3.0,2.6,3.0,2.8,3.7,3.4,3.2,3.1],[3.5,3.0,2.8,3.0,2.9,3.1,2.7,2.5,3.1,3.0],[2.8,3.4,2.2,1.7,1.5,2.8,2.9,3.1,3.1],[3.7,4.4,3.9,4.0,3.8,3.6,2.6,2.4,3.2],[3.7,3.3,3.1,2.9,2.9,3.1,3.2],[2.3,2.7,2.7,2.8,2.5,2.7,2.8],[2.7,3.3,2.6,2.0,2.4,2.5,3.1,3.5,3.9],[3.2,2.8,2.6,2.3,3.0,3.0,3.4,3.6,2.4]];
const peaksK=[[1,.06,5.1],[1,.07,4.95],[1,.35,4.85,4.7],[1,.94,5.03,3.95],[1,.54,4.2],[1,.19,4.2],[1,.28,4.05],[1,.37,4.15],[1,.03,3.75],[1,.32,3.75],[2,.52,7.35,5.25],[2,.25,5.63],[2,.26,5.03],[2,.29,4.35],[2,.64,4.2],[2,.93,3.8],[2,.28,4.05],[3,.17,6.45],[3,.85,6.13,4.1],[3,.72,5.82],[3,.94,4.85],[3,.7,4.65],[3,.5,4.5],[3,.8,4.35],[3,.38,4.2],[3,.28,4.05],[3,.62,4.0],[4,.59,6.0],[4,.61,5.6],[4,.41,4.95,4.65],[4,.14,4.65],[4,.62,4.65],[4,.37,4.3],[4,.55,4.25],[4,.88,4.0],[4,.15,4.15],[5,.05,6.1,4.68,4.25],[5,.41,6.17],[5,.17,4.9],[5,.15,4.88],[5,.68,4.68,4.35],[5,.91,4.35],[5,.5,4.05],[6,.08,6.3,5.8,5.25,4.65,4.25],[6,.07,6.0],[6,.85,6.4],[6,.7,4.85],[6,.33,4.15],[6,.13,4.1],[7,.06,5.73],[7,.89,5.1,4.75,4.25,3.85],[7,.05,4.45],[7,.51,4.4],[7,.07,3.97],[7,.56,3.93],[8,.09,6.17],[8,.42,6.1],[8,.31,5.97],[8,.2,5.85],[8,.46,5.87],[8,.57,5.65],[8,.61,5.28],[8,.38,4.97],[8,.71,4.88],[8,.22,4.65],[9,.88,6.5,3.95],[9,.86,5.6],[9,.51,5.13],[9,.61,4.88],[9,.82,4.4,3.75],[9,.27,4.25],[10,.31,3.9],[10,.84,3.85],[10,.65,3.8],[10,.16,3.7],[11,.06,5.28],[11,.28,4.7],[11,.11,4.55],[11,.24,4.25],[11,.83,4.25],[11,.6,4.1],[11,.25,4.0],[11,.13,3.85],[12,.8,7.25,4.9,4.6],[12,.19,5.53],[12,.81,5.38],[12,.12,4.0],[12,.32,4.0],[12,.66,4.1],[12,.9,3.9],[12,.21,3.65]];

const skylineL=[[2.6,2.1,2.8,3.2,2.6,2.3,2.2,4.0,2.0,1.8,2.3,2.0,3.3],[3.5,3.0,4.4,2.7,2.4,3.2,3.7,3.0,3.4,2.8,3.2],[3.3,2.7,3.0,4.4,3.3,2.3,3.5,3.6,3.4,3.3,3.6],[3.8,3.4,4.4,4.0,3.9,3.3,2.4,3.0,2.5,3.3,2.5],[3.7,3.3,2.7,2.4,2.9,2.7,2.9,3.1,3.0],[3.5,3.0,2.9,2.7,2.4,3.3,3.3,2.8,2.6,2.2],[2.5,2.9,3.0,3.4,3.9,3.0,2.7,3.0,3.0],[3.8,3.4,3.7,3.6,3.0,3.4,3.0,3.6,3.6],[2.9,3.0,5.0,3.2,3.0,2.5,3.0],[2.6,3.0,2.9,4.1,3.9,2.8,2.1],[2.5,3.0,2.7,2.7,2.8,3.3,3.6,4.1,3.5],[3.6,2.5,2.1,2.3,3.1,3.7,3.9,3.2,2.7]];
const peaksL=[[1,.1,4.5],[1,.29,4.2],[1,.03,4.0],[1,.24,3.95],[1,.15,3.85],[1,.44,3.85],[1,.05,3.5],[1,.65,4.1],[2,.24,5.6,5.35],[2,.2,5.1,4.6,4.3],[2,.3,5.05],[2,.68,5.1],[2,.63,4.95],[2,.9,5.2,4.75],[2,.23,4.85],[2,.62,4.85],[2,.57,4.6],[2,.64,4.5],[2,.66,4.2],[2,.06,4.15],[3,.59,6.42],[3,.61,5.22],[3,.86,4.83],[3,.85,4.62],[3,.27,4.55,4.2,3.95],[3,.66,4.5],[3,.6,4.35],[3,.73,4.35],[3,.35,4.15],[4,.21,6.97],[4,.2,6.42,5.78,4.45],[4,.4,6.55],[4,.6,6.08],[4,.33,5.75],[4,.11,5.6],[4,.36,4.9],[4,.35,4.75],[4,.22,4.7],[4,.31,4.4],[4,.39,4.5],[4,.64,4.35],[4,.86,4.35],[4,.95,4.1],[4,.48,4.05],[5,.06,5.17,4.35],[5,.28,4.87],[5,.65,4.63],[5,.61,4.45],[5,.12,4.25],[5,.7,4.2],[5,.07,4.05],[5,.31,3.85],[5,.78,3.8],[6,.6,6.3],[6,.08,5.02],[6,.67,5.02],[6,.61,4.9],[6,.58,4.75],[6,.39,4.7],[6,.59,4.5,4.2],[6,.42,4.05],[7,.56,5.82,4.62],[7,.89,5.52],[7,.64,4.5,3.95],[7,.9,4.55,3.65],[7,.91,4.48],[7,.47,4.0],[7,.08,3.8],[7,.39,3.9],[8,.06,5.95],[8,.24,4.98],[8,.9,4.77],[8,.6,4.6],[8,.31,4.45],[8,.42,4.35],[8,.36,4.0],[8,.93,4.15],[9,.35,6.08,5.6,5.5,5.2,5.0,4.8],[9,.82,4.73],[9,.77,4.55],[9,.51,4.35],[9,.2,3.6],[9,.83,3.5],[10,.48,4.25],[10,.6,4.15],[10,.23,3.95],[10,.76,3.85],[10,.33,3.85],[10,.13,3.25],[11,.87,5.03],[11,.23,4.7],[11,.74,4.58],[11,.12,4.15],[11,.59,4.0],[11,.47,3.75],[12,.14,4.65],[12,.7,4.75],[12,.77,4.3],[12,.54,3.97],[12,.12,3.9,4.15],[12,.87,3.95]];

const panelLayouts=[
{id:'a',axisX:194,left:202,right:1640,zeroY:672,unit:75.8,topY:141.5,axisY:692,axisEnd:1636,labelY:732,labelShift:4,chrX:185,skyline:skylineA,peaks:peaksA,ticks:yTicksA},
{id:'b',axisX:1845,left:1853,right:3293,zeroY:672,unit:40.9,topY:141.5,axisY:692,axisEnd:3289,labelY:734,labelShift:4,chrX:1843,skyline:skylineB,peaks:peaksB,ticks:yTicksB},
{id:'c',axisX:195,left:203,right:1629,zeroY:1447,unit:43.67,topY:923,axisY:1468,axisEnd:1626,labelY:1509,labelShift:4,chrX:183,skyline:skylineC,peaks:peaksC,ticks:yTicksC},
{id:'d',axisX:1844,left:1852,right:3279,zeroY:1447,unit:40.33,topY:923,axisY:1468,axisEnd:3276,labelY:1508,labelShift:4,chrX:1835,skyline:skylineD,peaks:peaksD,ticks:yTicksD},
{id:'e',axisX:197,left:206,right:1632,zeroY:2239,unit:52.5,topY:1714,axisY:2260,axisEnd:1628,labelY:2301,labelShift:5,chrX:193,skyline:skylineE,peaks:peaksE,ticks:yTicksE},
{id:'f',axisX:1841,left:1850,right:3283,zeroY:2238,unit:52.9,topY:1709,axisY:2258,axisEnd:3279,labelY:2296,labelShift:4,chrX:1843,skyline:skylineF,peaks:peaksF,ticks:yTicksF},
{id:'g',axisX:193,left:201,right:1646,zeroY:3027,unit:66.6,topY:2494,axisY:3048,axisEnd:1642,labelY:3087,labelShift:9,chrX:197,skyline:skylineG,peaks:peaksG,ticks:yTicksG},
{id:'h',axisX:1842,left:1850,right:3287,zeroY:3027,unit:58.75,topY:2499,axisY:3048,axisEnd:3282,labelY:3087,labelShift:36,chrX:1870,skyline:skylineH,peaks:peaksH,ticks:yTicksH},
{id:'i',axisX:191,left:200,right:1639,zeroY:3816,unit:75.6,topY:3287,axisY:3837,axisEnd:1633,labelY:3874,labelShift:5,chrX:188,skyline:skylineI,peaks:peaksI,ticks:yTicksI},
{id:'j',axisX:1840,left:1849,right:3298,zeroY:3817.5,unit:66.75,topY:3283.5,axisY:3839,axisEnd:3294,labelY:3880,labelShift:3,chrX:1836,skyline:skylineJ,peaks:peaksJ,ticks:yTicksJ},
{id:'k',axisX:193,left:202,right:1637,zeroY:4615,unit:66.5,topY:4083,axisY:4635,axisEnd:1632,labelY:4677,labelShift:4,chrX:188,skyline:skylineK,peaks:peaksK,ticks:yTicksK},
{id:'l',axisX:1841,left:1849,right:3285,zeroY:4620,unit:76.1,topY:4087,axisY:4641,axisEnd:3281,labelY:4682,labelShift:4,chrX:1836,skyline:skylineL,peaks:peaksL,ticks:yTicksL}
];

const SVGNS='http://www.w3.org/2000/svg';
const AXIS_GREY='#8c8c8c';
const CHR_GAP=3;
const BASE_DROP=5;

function make(tag,attrs,parent){
  const el=document.createElementNS(SVGNS,tag);
  for(const k in attrs){el.setAttribute(k,attrs[k]);}
  parent.appendChild(el);
  return el;
}
function chromosomeSpan(p,i){
  const total=chromosomeLengths.reduce(function(a,b){return a+b;},0);
  const scale=(p.right-p.left+CHR_GAP)/total;
  let start=0;
  for(let k=0;k<i;k++){start+=chromosomeLengths[k];}
  const x0=p.left+start*scale;
  return {x0:x0,x1:x0+chromosomeLengths[i]*scale-CHR_GAP};
}
function xScale(p,chrIndex,frac){
  const s=chromosomeSpan(p,chrIndex);
  return s.x0+(s.x1-s.x0)*frac;
}
function yScale(p,value){
  return p.zeroY-value*p.unit;
}
function dotRadius(value){
  if(value>=4.8){return 8.5;}
  if(value>=4){return 7;}
  return 6;
}
function drawPanel(p,root){
  const g=make('g',{},root);
  
  

  const bottom=p.zeroY+BASE_DROP;
  chromosomes.forEach(function(name,i){
    const span=chromosomeSpan(p,i);
    const values=p.skyline[i];
    const binW=(span.x1-span.x0)/values.length;
    const solidLevel=Math.min.apply(null,values);
    const cg=make('g',{stroke:chromosomeColors[i],fill:chromosomeColors[i]},g);
    
    
    const base=make('rect',{x:span.x0,y:yScale(p,1.2),width:span.x1-span.x0,height:bottom-yScale(p,1.2),rx:4,stroke:'none'},cg);
    
    
    values.forEach(function(v,b){
      const cx=span.x0+binW*(b+0.5);
      const mid=solidLevel+(v-solidLevel)*0.5;
      const col=make('line',{x1:cx,x2:cx,y1:yScale(p,1),y2:yScale(p,mid)+binW/2,'stroke-width':binW+0.6,'stroke-linecap':'round'},cg);
      
      
      if(v>mid){
        const chain=make('line',{x1:cx,x2:cx,y1:yScale(p,v)+5.5,y2:yScale(p,mid),'stroke-width':Math.min(binW,11.5),'stroke-linecap':'round','stroke-dasharray':'0 13'},cg);
        
        
      }
    });
  });

  const thr=make('line',{x1:p.axisX+8,x2:p.axisEnd,y1:yScale(p,significanceThreshold),y2:yScale(p,significanceThreshold),stroke:'#f27a7a','stroke-width':3.5,'stroke-dasharray':'4 3'},g);
  
  

  p.peaks.forEach(function(pk){
    const chrIndex=pk[0]-1;
    for(let n=2;n<pk.length;n++){
      const dot=make('circle',{cx:xScale(p,chrIndex,pk[1]),cy:yScale(p,pk[n]),r:dotRadius(pk[n]),fill:chromosomeColors[chrIndex]},g);
      
      
    }
  });

  const yAxis=make('line',{x1:p.axisX,x2:p.axisX,y1:p.topY,y2:p.zeroY,stroke:AXIS_GREY,'stroke-width':3},g);
  
  
  p.ticks.forEach(function(t){
    const mark=make('line',{x1:p.axisX-11,x2:p.axisX,y1:yScale(p,t),y2:yScale(p,t),stroke:AXIS_GREY,'stroke-width':3},g);
    
    
    const label=make('text',{x:p.axisX-27,y:yScale(p,t)+14,'text-anchor':'end','class':'tick'},g);
    
    
    label.textContent=String(t);
  });

  const xAxis=make('line',{x1:p.axisX,x2:p.axisEnd,y1:p.axisY,y2:p.axisY,stroke:'#a0a0a0','stroke-width':4},g);
  
  
  const startTick=make('line',{x1:p.axisX,x2:p.axisX,y1:p.axisY,y2:p.axisY+12,stroke:AXIS_GREY,'stroke-width':3},g);
  
  
  chromosomes.forEach(function(name,i){
    const x=xScale(p,i,0.5);
    const mark=make('line',{x1:x,x2:x,y1:p.axisY,y2:p.axisY+12,stroke:AXIS_GREY,'stroke-width':3},g);
    
    
    const label=make('text',{x:x+p.labelShift,y:p.labelY+14,'text-anchor':'middle','class':'tick'},g);
    
    
    label.textContent=name;
  });
  const chrLabel=make('text',{x:p.chrX,y:p.labelY+12,'text-anchor':'middle','class':'tick'},g);
  
  
  chrLabel.textContent='chr';
}
const chartRoot=document.getElementById('charts');
panelLayouts.forEach(function(p){drawPanel(p,chartRoot);});
</script>
</body>
</html>
